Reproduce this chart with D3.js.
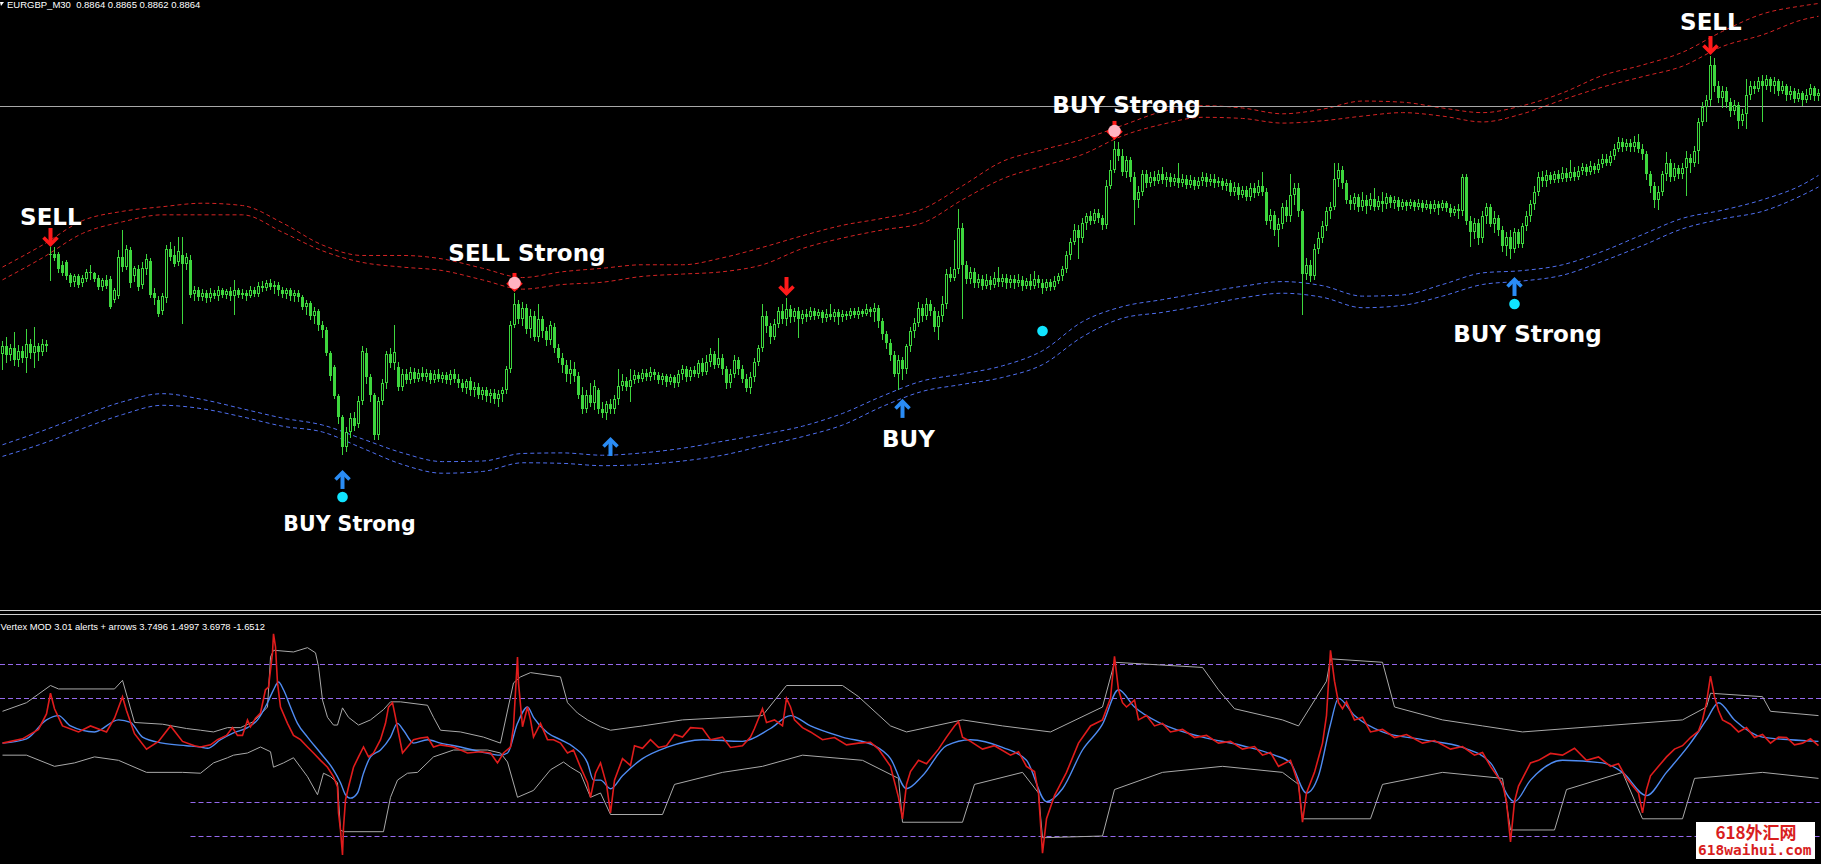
<!DOCTYPE html>
<html><head><meta charset="utf-8">
<script src="https://cdn.jsdelivr.net/npm/d3@7"></script>
<style>html,body{margin:0;padding:0;background:#000;overflow:hidden}</style>
</head><body>
<svg id="chart" width="1821" height="864"></svg>
<script>
// ---- Main window data: EURGBP M30, values in pips above 0.8000 (e.g. 864 = 0.8864) ----
const opens = [650,657,649,655,645,653,647,659,651,657,652,659,
735,736,736,727,729,718,712,717,711,715,720,720,716,708,714,715,697,700,734,725,740,717,723,710,723,730,703,697,687,698,741,735,729,735,728,731,702,
705,699,703,698,703,700,705,701,704,700,705,701,703,700,705,702,709,707,711,708,710,705,702,705,700,703,699,691,694,683,687,675,671,651,639,614,
596,570,583,595,590,610,651,630,615,580,610,625,650,642,639,
622,633,628,635,629,634,630,634,628,633,629,632,628,633,629,625,621,627,619,622,615,619,614,617,611,616,
619,637,675,693,680,690,672,683,665,680,670,662,673,655,647,641,633,637,631,615,603,615,608,619,603,599,607,603,611,
623,627,622,628,632,629,634,630,635,632,628,631,626,630,625,633,637,630,636,633,642,635,643,650,641,647,637,625,633,645,637,629,621,630,643,
655,683,674,665,676,687,680,689,682,687,680,685,682,687,683,686,681,685,682,686,682,685,683,687,684,687,685,689,686,690,
679,667,660,649,633,645,637,657,670,677,690,683,693,687,673,683,693,719,716,723,759,
727,715,721,711,715,709,714,710,716,712,716,711,715,711,714,709,713,709,715,711,707,712,708,713,717,
723,735,747,757,750,763,769,765,772,767,761,795,809,827,821,807,817,803,783,790,805,797,803,799,805,800,803,798,802,797,801,796,800,795,
799,803,798,801,797,799,795,797,790,794,787,791,785,793,789,795,790,765,770,757,762,777,769,787,793,773,719,727,717,741,750,760,773,
777,801,809,797,783,779,785,777,783,778,784,777,782,779,785,780,783,777,781,778,781,777,780,776,779,775,779,776,780,776,772,775,
773,803,765,755,763,750,769,777,762,767,757,743,751,741,755,745,760,769,779,790,803,799,804,800,805,801,806,802,807,803,808,811,807,812,809,
814,818,815,821,827,833,828,832,828,833,827,822,805,795,783,790,805,815,803,810,805,810,819,815,825,850,863,
869,899,881,871,877,867,859,865,851,857,873,881,878,885,881,887,881,885,877,881,873,877,870,875,869,873,879,872];
const highs = [661,665,659,669,658,657,672,663,673,660,663,662,
742,742,738,730,731,720,719,719,718,723,727,721,718,716,718,717,707,740,757,744,742,726,727,729,736,733,707,700,703,744,747,743,751,751,737,735,709,
708,706,705,707,705,709,707,706,708,714,707,706,705,709,708,712,713,714,715,713,712,708,707,707,705,705,701,697,696,691,689,679,673,653,641,616,
598,587,599,600,614,657,655,633,617,613,629,653,655,675,643,
637,637,639,638,637,639,637,636,636,637,635,635,636,637,633,629,629,630,626,625,622,622,620,620,619,622,
640,679,703,697,695,693,689,687,693,683,673,679,677,659,651,645,645,643,635,622,619,625,628,621,609,610,611,615,637,
633,630,637,636,635,637,637,639,637,635,634,633,633,632,636,641,640,639,640,645,647,649,655,653,664,650,640,637,649,648,641,633,635,647,658,
693,687,677,680,691,693,698,692,690,691,688,689,691,690,689,688,689,693,689,689,688,687,690,690,691,689,693,691,694,692,
681,670,663,653,649,648,659,673,681,695,693,698,697,691,687,700,723,725,748,775,763,
730,725,724,719,718,719,717,721,725,719,719,718,718,719,717,716,719,722,718,715,715,715,717,720,726,
739,750,762,761,767,772,773,775,775,770,800,817,834,833,827,821,820,807,795,809,809,807,808,809,811,807,806,805,815,805,804,804,803,803,
807,806,805,805,803,802,801,800,798,797,795,795,797,797,800,807,793,775,773,767,780,783,805,797,797,775,733,731,745,755,765,777,781,
815,815,812,800,787,789,788,790,787,789,793,786,790,789,787,786,785,784,783,784,783,784,783,783,782,783,782,783,782,779,778,779,
805,805,769,767,766,773,780,779,773,770,760,755,757,759,758,763,773,783,795,807,808,809,807,808,809,811,810,817,811,812,815,814,816,815,818,
822,822,825,831,837,836,835,835,838,840,831,825,808,798,795,808,824,818,815,813,815,825,822,829,853,867,873,
907,905,885,881,880,871,869,867,861,887,885,885,889,890,890,889,889,887,885,883,881,879,878,877,878,883,881,878];
const lows = [637,643,645,641,640,643,635,647,639,645,649,653,
714,731,721,718,715,709,709,708,709,713,715,713,706,705,707,690,695,698,722,723,708,713,705,707,719,699,693,683,685,695,731,726,727,677,723,699,697,
697,697,695,696,698,697,699,698,697,685,699,698,697,699,700,700,704,705,706,703,701,699,698,697,696,696,689,685,680,677,671,665,649,628,612,591,
564,567,579,585,587,607,625,610,577,577,607,621,639,637,619,
619,625,625,626,627,628,627,625,626,627,626,625,624,626,622,618,617,615,614,612,611,610,609,608,605,610,
617,635,673,677,675,668,665,662,661,665,658,659,652,643,635,627,625,627,612,599,600,605,603,599,596,594,599,599,607,
619,619,610,625,626,627,628,628,629,625,624,623,624,622,623,629,627,628,631,630,632,633,640,638,639,633,621,622,630,633,626,618,617,627,641,
653,669,660,663,673,677,675,678,679,665,677,679,680,680,681,678,679,680,679,676,679,680,681,682,681,683,684,683,679,673,
663,655,645,631,620,629,634,653,665,674,679,680,684,670,663,679,690,713,714,720,681,
711,711,708,708,706,707,706,708,709,709,707,708,707,709,705,707,706,707,708,703,705,705,706,711,714,
721,732,745,733,747,758,762,763,764,758,759,793,807,817,804,803,799,762,777,787,794,795,796,797,797,795,795,796,794,795,793,794,792,793,
796,795,796,794,795,792,791,787,787,784,785,783,783,785,787,787,762,759,753,743,759,765,765,779,769,685,715,713,715,737,747,757,767,
775,795,793,780,775,775,773,774,772,775,774,775,773,776,777,776,774,775,774,776,774,775,773,775,772,773,771,774,773,769,770,767,
770,762,743,750,745,747,763,760,755,753,739,735,733,738,742,742,757,765,775,787,795,795,797,798,798,799,799,800,800,801,805,804,805,806,807,
811,813,813,818,825,825,826,825,825,824,818,801,790,777,775,787,800,799,800,802,802,787,807,812,815,847,851,
865,877,867,863,863,855,857,845,847,845,870,875,877,851,878,877,875,873,875,869,870,867,868,865,867,870,869,869];
const closes = [657,649,655,645,653,647,659,651,657,652,659,657,
736,733,723,720,717,711,717,710,716,721,721,715,708,714,709,691,705,734,725,741,711,724,708,724,732,701,698,685,700,741,734,728,739,728,734,701,705,
699,703,698,703,700,705,701,704,700,705,701,703,700,705,702,709,707,711,708,710,705,702,705,700,703,699,691,694,683,687,675,671,651,631,614,596,
570,583,595,588,610,653,630,615,580,610,625,650,642,652,622,
633,628,635,629,634,630,634,628,633,629,632,628,633,629,625,621,627,619,622,615,619,614,617,611,616,619,
637,675,693,680,690,672,683,665,680,670,662,675,655,647,641,633,637,631,615,603,615,608,623,603,599,607,603,611,623,
627,622,628,632,629,634,630,635,632,628,631,626,630,625,633,637,630,636,633,642,635,643,650,641,647,637,625,633,645,637,629,621,630,643,655,
683,674,665,676,687,680,689,682,687,680,685,682,687,683,686,681,685,682,686,682,685,683,687,684,687,685,689,686,690,679,
667,660,649,633,645,637,657,670,677,690,683,693,687,673,683,693,719,716,723,759,727,
715,721,711,715,709,714,710,716,712,716,711,715,711,714,709,713,709,715,711,707,712,708,713,717,723,
735,747,757,750,763,769,765,772,767,761,795,809,827,821,807,817,803,783,790,805,797,803,799,805,800,803,798,802,797,801,796,800,795,799,
803,798,801,797,799,795,797,790,794,787,791,785,793,789,795,790,765,770,757,762,777,769,787,793,773,719,727,717,741,750,760,773,777,
801,809,797,783,779,785,777,783,778,784,777,782,779,785,780,783,777,781,778,781,777,780,776,779,775,779,776,780,776,772,775,773,
803,765,755,763,750,769,777,762,767,757,743,751,741,755,745,760,769,779,790,803,799,804,800,805,801,806,802,807,803,808,811,807,812,809,814,
818,815,821,827,833,828,832,828,833,827,822,805,795,783,790,805,815,803,810,805,810,819,815,825,850,863,869,
899,881,871,877,867,859,865,851,857,873,881,878,885,881,887,881,885,877,881,873,877,870,875,869,873,879,872,875];

// envelope bands sampled every 10 bars
const bandBars  = [0,10,20,30,40,50,60,70,80,90,100,110,120,130,140,150,160,170,180,190,200,210,220,230,240,250,260,270,280,290,300,310,320,330,340,350,360,370,380,390,400,410,420,430,440,450,454];
const redOuter  = [725,744,765,773,777,780,778,763,744,735,735,732,724,716,721,724,727,727,733,742,752,761,767,775,795,816,826,835,847,859,864,862,857,861,868,867,862,858,864,875,890,899,910,928,943,950,952];
const redInner  = [714,733,754,764,770,770,770,755,739,729,725,722,714,706,710,712,717,719,721,727,741,750,757,763,783,801,812,822,838,848,854,853,849,851,855,858,855,850,857,869,880,889,898,915,925,938,941];
const blueInner = [572,584,597,609,616,611,603,595,589,577,565,557.5,558,564.5,565,563,565,569,575,581,588,599,614,627,633,640,653,678,691,697,703,708.5,712.5,709,700,701,710,720,722,727,738.5,753,767,774,783,796,804];
const blueOuter = [562,573,586,598,606,603,596,588,583,569,555,547.5,549,556.5,556,554,555,558,563,571,579,589,605,618,624,630,641,665,681,686,692,698.5,702.5,699,690,692,700,710,713,718,730,743.5,758,766.5,773,787,794];
const askPrice = 864;

// signals
const signalBars   = [12, 128, 85, 152, 196, 225, 260, 278, 378, 427];
const signalKinds  = ["down","downPink","upDot","up","down","up","dot","downPink","upDot","down"];
const signalPrices = [742.3, 703.6, 550.3, 578.7, 700.1, 611.5, 670, 834.5, 716.5, 907.6];
const labelTexts   = ["SELL","SELL Strong","BUY Strong","BUY","BUY Strong","BUY Strong","SELL"];
const labelBars    = [12.1, 131.1, 86.75, 226.5, 281, 381.25, 427.1];
const labelPrices  = [761.3, 730.3, 497.8, 570.1, 857.7, 660.5, 929.2];

// ---- Sub window: Vertex MOD 3.01 ----
const oscLevels = [10, 6, -6, -10];
const oscLevelStart = [0, 0, 47, 47];
const oscRed = [[0,0.8],[5,1.3],[9,2.4],[11,4.2],[12,6.6],[13,4.8],[15,2.8],[19,2.1],[22,2.8],[26,2.1],[28,3.7],[30,6.2],[31,4.6],[33,1.9],[36,0.1],[39,1.0],[42,2.8],[45,1.0],[48,0.5],
[49.5,0.35],[52,0.6],[53.75,1.2],[56,1.7],[57.5,2.6],[58.75,1.7],[60,1.7],[61.25,3.5],[62,2.7],[63.25,3.7],[64.5,4.3],[65.75,7.0],[66.5,7.3],[67.5,11.3],[67.75,13.5],[68.25,12],[68.75,7.8],[69.5,5.0],[71.25,3.1],[72.75,1.7],[74.5,1.2],[76.25,0.35],[77.75,-0.35],[79.5,-1.2],[81.25,-2.0],[82.75,-3.1],[83.75,-4.3],[84,-7.3],[84.5,-9.3],[85,-12.2],[85.25,-9],[85.75,-5.8],[86.5,-4.3],[87.75,-2],[89,-0.8],[90.25,0.35],[91.5,-0.8],[92.75,-0.35],[94.5,1.2],[95.75,3.1],[96.5,5],[97.5,5.5],[98.25,3.8],[99,2],[100,-0.35],[101.25,0.35],[102.75,1.2],[104.5,1.4],[106.25,1.5],[107.75,0.35],[109.5,0.6],[112.75,0.35],[116.25,-0.35],[119.5,-0.2],[122,-0.35],[123.75,-1.5],[125.25,-0.35],[127,0.35],[127.75,2.7],[128.75,10.8],[129,7.8],[130,2.7],[131.25,5],[132,3.5],[132.75,1.5],[134.5,3.1],[136.25,1.2],[137.75,1.2],[139.5,0.8],[141.25,-0.35],[142.75,0],[144.5,-2],[146.25,-3.8],[147,-5.5],[148.25,-2.7],
[149.5,-1.5],[151,-4],[152,-7.3],[153,-3.5],[155,-1],[157,-1.8],[158,0.5],[160,0.2],[162,1.2],[164,0.3],[166,0.5],[168,1.8],[170,1.5],[172,2.6],[175,2.5],[177,1.2],[180,1.5],[182,0.3],[185,0.5],[187,1.5],[188,2.5],[190,4.8],[191,3.2],[193,3.5],[195,2.8],[196,6],[197,5],[198,3.5],[200,2.6],[202,2.1],[205,1.2],[208,1.45],[211,0.6],[214,0.8],[217,0.9],[219,0.1],[222,-1.9],[224,-5.5],[225,-8],[226,-4],[227,-2.5],[229,-1.2],[231,-1.6],[234,0.1],[236,1.5],[238,2.8],[239,3.3],[240,1.5],[242,1.0],[245,0.1],[248,0.5],[252,-0.6],[254,-0.2],[256,-1.9],[258,-2.5],[259,-5],[260,-12],[261,-8],[263,-5.3],[266,-2.6],[269,0.8],[272,2.8],[275,3.5],[277,6],[278,10.9],[279,7],[280,5.5],[281,5],[283,5.8],[284,3.5],[286,4.0],[288,2.8],[290,3.1],[292,2.1],[295,2.4],[298,1.45],[301,1.7],[304,0.8],[307,1.0],[310,0.1],[313,0.4],[315,-0.6],[317,-0.3],[319,-1.9],[322,-1.2],[324,-4],[325,-8.4],[326,-5],[328,-2.6],[330,0.8],[331,4],[332,11.6],[333,8],[334,5.5],[335,4.8],[336,5.6],[338,3.5],[340,3.8],[342,2.1],[345,2.4],[348,1.45],[351,1.8],[355,0.8],[358,1.1],[362,0.1],[365,0.4],[368,-0.6],[370,-0.3],[372,-1.9],[375,-3.9],[376,-6],[377,-10.7],[378,-6],[379,-4.2],[380,-3.3],[382,-1.5],[384,-1.2],[387,-0.4],[390,-0.6],[393,0.2],[396,-1.2],[399,-0.8],[402,-1.9],[404,-1.6],[406,-3.3],[409,-5],[410,-7.3],[411,-4.6],[412,-3.0],[414,-1.9],[416,-0.8],[418,0.1],[420,0.5],[422,1.45],[424,2.2],[425,3.5],[426,5.5],[427,8.6],[428,6.2],[429,4.6],[430,3.5],[432,3.0],[434,2.1],[436,2.6],[438,1.45],[440,1.8],[442,0.8],[444,1.5],[446,1.45],[448,0.6],[450,0.8],[452,1.3],[454,0.5]];
const oscBlue = [[0,0.8],[6,1.3],[11,3.5],[14,4.0],[17,2.8],[23,2.1],[29,3.5],[32,3.2],[35,1.5],[40,0.8],[46,0.5],
[49.5,0.35],[51.25,0.2],[54.5,1.2],[57.75,2],[61.25,2.6],[63.75,3.5],[66.25,5.5],[67.75,7],[69,7.9],[70.25,7],[72,5],[73.75,3.1],[76.25,1.5],[79.5,-0.35],[82.75,-2.3],[84.5,-3.8],[85.75,-5.2],[87,-5.6],[88.75,-5],[90.25,-2.7],[92,-0.8],[94.5,0],[97,1.5],[98.75,3.1],[100.25,2.3],[102.75,0.8],[106.25,1.2],[109.5,0.8],[114.5,0.35],[119.5,-0.2],[124.5,-0.6],[126.25,-0.35],[128.75,3.1],[131.25,5],[132.75,3.8],[136.25,2],[139.5,1.2],[142.75,0.35],[146.25,-1.5],[147.75,-3.5],
[149.5,-3.5],[152,-4.5],[155,-3],[160,-1],[166,0.3],[175,1.2],[185,1.0],[192,2.5],[197,4.0],[202,2.8],[210,1.5],[218,0.5],[222,-1],[226,-4.5],[230,-3],[236,0.5],[242,1.2],[250,0.3],[256,-1.2],[261,-6],[265,-4.5],[270,0],[275,3],[279,7],[283,5],[290,3.0],[300,1.5],[310,0.5],[318,-0.6],[322,-1.5],[326,-5],[329,-3],[332,3],[334,6],[338,4],[345,2.1],[355,1.2],[365,0.3],[372,-1.5],[378,-6],[382,-3.5],[390,-1.2],[400,-1.5],[405,-2.6],[411,-5.3],[416,-2.6],[422,0.8],[426,3.5],[429,5.5],[433,3.5],[440,1.5],[447,1.2],[454,1.0]];
const oscUpper = [[0,4.5],[6,5.5],[12,7.5],[14,7.1],[28,7.1],[30,8.1],[33,3.2],[40,3.0],[46,2.5],
[49.5,2.3],[52.75,2.1],[56.25,2.6],[59.5,2.6],[62.75,3.3],[66.25,5],[67,10.8],[67.75,11.6],[72.75,11.4],[76.25,11.9],[78.25,11.3],[79,9.7],[80,5.8],[81.25,3.8],[82.75,2.9],[83.75,2.9],[85,4.9],[86.5,3.8],[89,2.9],[92,3.5],[95.25,4.7],[97,5.6],[99.5,5.6],[106.25,5.2],[107.75,3.8],[109.5,2.3],[114.5,2.1],[120.25,1.5],[124.5,0.8],[127.75,7.8],[129.5,8.5],[132,9],[139.5,8.5],[141.25,5.5],[143.75,4.3],[146.25,3.5],
[149.5,2.7],[152,2.3],[160,2.8],[170,3.5],[190,4.0],[196,7.5],[210,7.5],[214,6.2],[222,2.8],[226,2.1],[240,3.5],[250,2.8],[262,2.1],[275,5],[278,10.2],[300,9.6],[304,7],[308,4.8],[320,3.5],[324,2.8],[331,8],[332,10.6],[345,10.2],[348,5],[360,3.5],[370,2.8],[380,2.1],[400,2.8],[420,3.5],[426,5.0],[427,6.6],[440,6.2],[442,4.5],[454,4.0]];
const oscLower = [[0,-0.6],[6,-0.6],[13,-1.9],[18,-1.5],[23,-0.8],[29,-1.2],[36,-2.6],[45,-2.6],
[49.5,-2.7],[52.75,-1.5],[56.25,-0.9],[57.75,-0.6],[61.25,-0.35],[64.5,0.35],[67,-0.2],[67.75,-2],[70.25,-1.5],[72.75,-0.9],[74.5,-2],[76.25,-3.1],[78.75,-5.2],[80.25,-2.7],[82,-3.1],[83.75,-3.8],[84.5,-9.3],[85.25,-9.5],[95.25,-9.5],[97,-5.5],[98.75,-3.5],[101.25,-2.7],[103.75,-2.6],[107.75,-0.8],[112.75,0],[121.25,0],[124.5,-0.35],[126.25,-1.4],[128.75,-5.5],[132.75,-4.7],[137,-2.3],[140.25,-1.4],[142,-2],[144.5,-2.7],[147,-5.5],
[149.5,-5],[152,-7.5],[165,-7.5],[168,-4],[180,-2.6],[190,-1.9],[200,-0.6],[215,-1.2],[224,-3.3],[225,-8.4],[240,-8.4],[243,-4],[255,-2.6],[259,-5],[260,-10.2],[275,-10],[278,-4.6],[290,-2.6],[305,-1.9],[320,-2.6],[324,-4],[325,-8.0],[342,-8.0],[345,-4],[360,-2.6],[375,-3.3],[377,-9.3],[388,-9.3],[391,-4.6],[405,-2.6],[410,-8.0],[420,-8.0],[423,-3.3],[440,-2.6],[454,-3.3]];

const headerMain = "EURGBP_M30  0.8864 0.8865 0.8862 0.8864";
const headerSub = "Vertex MOD 3.01 alerts + arrows 3.7496 1.4997 3.6978 -1.6512";

// ---------------- drawing ----------------
const W = 1821, H = 864;
const svg = d3.select("#chart");
svg.append("rect").attr("width", W).attr("height", H).attr("fill", "#000");
const defs = svg.append("defs");
defs.append("clipPath").attr("id","clipMain").append("rect").attr("x",0).attr("y",0).attr("width",W).attr("height",610);
defs.append("clipPath").attr("id","clipSub").append("rect").attr("x",0).attr("y",616).attr("width",W).attr("height",H-616);

const x = d3.scaleLinear().domain([0, 454]).range([2.5, 1818.5]);
const y = d3.scaleLinear().domain([428, 955]).range([612, 0]);
const yo = d3.scaleLinear().domain([-10, 10]).range([836, 664]);

const main = svg.append("g").attr("clip-path","url(#clipMain)");
const GREEN = "#3ed63e";

// bands
const bandLine = d3.line().x((d,k) => x(bandBars[k])).y(d => y(d)).curve(d3.curveMonotoneX);
[[redOuter,"#d42424"],[redInner,"#d42424"],[blueInner,"#4f6ff0"],[blueOuter,"#4f6ff0"]].forEach(([arr,col]) => {
  main.append("path").attr("d", bandLine(arr)).attr("fill","none").attr("stroke",col)
    .attr("stroke-width",1).attr("stroke-dasharray","4,3");
});

// ask line
const yAsk = Math.round(y(askPrice)) + 0.5;
main.append("line").attr("x1",0).attr("x2",W).attr("y1",yAsk).attr("y2",yAsk).attr("stroke","#a8a8a8").attr("stroke-width",1);

// candles
const idx = d3.range(closes.length);
const gC = main.append("g");
gC.selectAll("line").data(idx).join("line")
  .attr("x1", i => x(i)).attr("x2", i => x(i))
  .attr("y1", i => Math.round(y(highs[i])))
  .attr("y2", i => Math.round(y(lows[i])) + 1)
  .attr("stroke", GREEN).attr("stroke-width", 1);
gC.selectAll("rect").data(idx).join("rect").each(function(i){
  const o = opens[i], c = closes[i];
  const top = Math.round(y(Math.max(o,c))), bot = Math.round(y(Math.min(o,c)));
  const h = Math.max(1, bot - top);
  const s = d3.select(this);
  if (c > o && h >= 3) {
    s.attr("x", x(i)-1).attr("y", top+0.5).attr("width",2).attr("height",h-1)
     .attr("fill","#000").attr("stroke",GREEN).attr("stroke-width",1);
  } else {
    s.attr("x", x(i)-1.5).attr("y", top).attr("width",3).attr("height",h).attr("fill",GREEN);
  }
});

// signal markers
const gS = main.append("g");
function downArrow(cx, ty, col) {
  gS.append("rect").attr("x",cx-2).attr("y",ty-19).attr("width",4).attr("height",15).attr("fill",col);
  gS.append("path").attr("d",`M${cx-7},${ty-9.5}L${cx},${ty-2.5}L${cx+7},${ty-9.5}`)
    .attr("fill","none").attr("stroke",col).attr("stroke-width",3.6);
}
function upArrow(cx, ty, col) {
  gS.append("rect").attr("x",cx-2).attr("y",ty+4).attr("width",4).attr("height",15).attr("fill",col);
  gS.append("path").attr("d",`M${cx-7},${ty+9.5}L${cx},${ty+2.5}L${cx+7},${ty+9.5}`)
    .attr("fill","none").attr("stroke",col).attr("stroke-width",3.6);
}
signalBars.forEach((b, k) => {
  const cx = x(b), ty = y(signalPrices[k]), kind = signalKinds[k];
  if (kind === "down") downArrow(cx, ty, "#ff1a1a");
  if (kind === "downPink") {
    downArrow(cx, ty, "#ff1a1a");
    gS.append("circle").attr("cx",cx).attr("cy",ty-9).attr("r",6.2).attr("fill","#ffb3c1");
  }
  if (kind === "up") upArrow(cx, ty, "#2a8cf5");
  if (kind === "upDot") {
    upArrow(cx, ty, "#2a8cf5");
    gS.append("circle").attr("cx",cx).attr("cy",ty+27).attr("r",5.3).attr("fill","#10e4ff");
  }
  if (kind === "dot") gS.append("circle").attr("cx",cx).attr("cy",ty).attr("r",5.3).attr("fill","#10e4ff");
});

// labels
const LABEL_SIZE = [23, 23, 20.5, 23, 23, 23, 23];
svg.append("g").selectAll("text").data(labelTexts).join("text")
  .attr("x", (d,k) => x(labelBars[k])).attr("y", (d,k) => y(labelPrices[k]))
  .attr("text-anchor","middle").attr("fill","#fff")
  .attr("font-family","'DejaVu Sans', sans-serif").attr("font-weight","bold")
  .attr("font-size",(d,k) => LABEL_SIZE[k])
  .text(d => d);

// main header
svg.append("path").attr("d","M0,2L4,2L1,6Z").attr("fill","#fff");
svg.append("text").attr("x",7).attr("y",8).attr("fill","#fff")
  .attr("font-family","'Liberation Sans', Arial, sans-serif").attr("font-size",9.5)
  .attr("xml:space","preserve").style("white-space","pre").text(headerMain);

// separator
[610.5, 614.5].forEach(v => svg.append("line").attr("x1",0).attr("x2",W).attr("y1",v).attr("y2",v)
  .attr("stroke","#d0d0d0").attr("stroke-width",1.2));

// sub window
const sub = svg.append("g").attr("clip-path","url(#clipSub)");
oscLevels.forEach((lv, k) => {
  const yy = Math.round(yo(lv)) + 0.5;
  sub.append("line").attr("x1", k >= 2 ? x(oscLevelStart[k]) : 0).attr("x2", W)
    .attr("y1", yy).attr("y2", yy).attr("stroke","#9468ec").attr("stroke-width",1).attr("stroke-dasharray","5,3");
});
const oscLine = d3.line().x(d => x(d[0])).y(d => yo(d[1]));
sub.append("path").attr("d", oscLine(oscUpper)).attr("fill","none").attr("stroke","#a9a9a9").attr("stroke-width",1);
sub.append("path").attr("d", oscLine(oscLower)).attr("fill","none").attr("stroke","#a9a9a9").attr("stroke-width",1);
sub.append("path").attr("d", d3.line().x(d => x(d[0])).y(d => yo(d[1])).curve(d3.curveMonotoneX)(oscBlue))
  .attr("fill","none").attr("stroke","#4f8cf2").attr("stroke-width",1.4);
sub.append("path").attr("d", oscLine(oscRed)).attr("fill","none").attr("stroke","#e01c1c").attr("stroke-width",1.6);

svg.append("text").attr("x",0.5).attr("y",629.5).attr("fill","#fff")
  .attr("font-family","'Liberation Sans', Arial, sans-serif").attr("font-size",9.4).text(headerSub);

// watermark
svg.append("rect").attr("x",1696).attr("y",822).attr("width",119).attr("height",37).attr("fill","#fff");
svg.append("text").attr("x",1756).attr("y",839).attr("text-anchor","middle").attr("fill","#d81e1e")
  .attr("font-family","'Noto Sans CJK SC', sans-serif").attr("font-weight","bold").attr("font-size",17).text("618外汇网");
svg.append("text").attr("x",1698).attr("y",854.5).attr("fill","#d81e1e")
  .attr("font-family","'DejaVu Sans Mono', monospace").attr("font-weight","bold").attr("font-size",14.5).text("618waihui.com");
</script>
</body></html>
